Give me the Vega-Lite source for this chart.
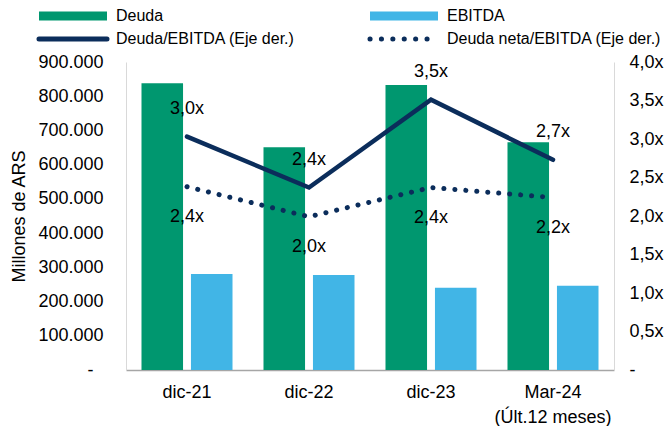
{
  "$schema": "https://vega.github.io/schema/vega-lite/v6.json",
  "width": 488,
  "height": 308,
  "autosize": {"type": "none"},
  "padding": {"left": 126, "top": 62, "right": 54, "bottom": 56},
  "background": "white",
  "config": {
    "font": "Liberation Sans",
    "view": {"stroke": null},
    "axis": {"grid": false, "ticks": false, "tickSize": 0, "labelFontSize": 18, "labelColor": "#000000", "titleColor": "#000000", "titleFontWeight": "normal", "titleFontSize": 18}
  },
  "datasets": {
    "barras": [
      {"periodo": "dic-21", "serie": "Deuda", "valor": 838000},
      {"periodo": "dic-21", "serie": "EBITDA", "valor": 280500},
      {"periodo": "dic-22", "serie": "Deuda", "valor": 650700},
      {"periodo": "dic-22", "serie": "EBITDA", "valor": 277600},
      {"periodo": "dic-23", "serie": "Deuda", "valor": 832800},
      {"periodo": "dic-23", "serie": "EBITDA", "valor": 240500},
      {"periodo": "Mar-24", "serie": "Deuda", "valor": 665300},
      {"periodo": "Mar-24", "serie": "EBITDA", "valor": 246400}
    ],
    "ratios": [
      {"periodo": "dic-21", "serie": "Deuda/EBITDA (Eje der.)", "ratio": 3.03, "lbl": "3,0x"},
      {"periodo": "dic-22", "serie": "Deuda/EBITDA (Eje der.)", "ratio": 2.37, "lbl": "2,4x"},
      {"periodo": "dic-23", "serie": "Deuda/EBITDA (Eje der.)", "ratio": 3.51, "lbl": "3,5x"},
      {"periodo": "Mar-24", "serie": "Deuda/EBITDA (Eje der.)", "ratio": 2.73, "lbl": "2,7x"},
      {"periodo": "dic-21", "serie": "Deuda neta/EBITDA (Eje der.)", "ratio": 2.38, "lbl": "2,4x"},
      {"periodo": "dic-22", "serie": "Deuda neta/EBITDA (Eje der.)", "ratio": 1.99, "lbl": "2,0x"},
      {"periodo": "dic-23", "serie": "Deuda neta/EBITDA (Eje der.)", "ratio": 2.37, "lbl": "2,4x"},
      {"periodo": "Mar-24", "serie": "Deuda neta/EBITDA (Eje der.)", "ratio": 2.24, "lbl": "2,2x"}
    ]
  },
  "encoding": {
    "x": {
      "field": "periodo", "type": "nominal", "sort": ["dic-21", "dic-22", "dic-23", "Mar-24"],
      "scale": {"paddingInner": 0.254, "paddingOuter": 0.127},
      "axis": {
        "title": null, "labelAngle": 0, "labelPadding": 13, "labelBaseline": "top",
        "domainColor": "#A6A6A6", "domainWidth": 1.3, "labelLineHeight": 25,
        "labelExpr": "datum.value == 'Mar-24' ? ['Mar-24', '(Últ.12 meses)'] : datum.value"
      }
    }
  },
  "layer": [
    {
      "data": {"name": "barras"},
      "mark": {"type": "bar"},
      "encoding": {
        "xOffset": {"field": "serie", "type": "nominal", "sort": null, "scale": {"paddingInner": 0.16, "paddingOuter": 0}},
        "y": {
          "field": "valor", "type": "quantitative",
          "scale": {"domain": [0, 900000], "nice": false},
          "axis": {
            "title": "Millones de ARS", "titlePadding": 9,
            "values": [0, 100000, 200000, 300000, 400000, 500000, 600000, 700000, 800000, 900000],
            "labelPadding": {"condition": {"test": "datum.value == 0", "value": 33}, "value": 23},
            "domainColor": "#D9D9D9",
            "labelExpr": "datum.value == 0 ? '-' : format(datum.value / 1000, 'd') + '.000'"
          }
        },
        "color": {
          "field": "serie", "type": "nominal", "sort": null,
          "scale": {
            "domain": ["Deuda", "EBITDA", "Deuda/EBITDA (Eje der.)", "Deuda neta/EBITDA (Eje der.)"],
            "range": ["#00976F", "#41B5E6", "#0B2D5B", "#0B2D5B"]
          },
          "legend": {
            "title": null, "orient": "none", "legendX": -61, "legendY": -54,
            "direction": "horizontal",
            "columns": 2, "columnPadding": 65, "rowPadding": 5, "padding": 0,
            "labelFontSize": 16, "labelColor": "#000000", "labelLimit": 400, "labelOffset": 35,
            "symbolType": "M-4,-0.53H4V0.53H-4Z", "symbolSize": 289, "symbolStrokeWidth": 5,
            "encode": {
              "symbols": {
                "update": {
                  "shape": {"signal": "datum.value == 'Deuda' || datum.value == 'EBITDA' ? 'M-4,-0.53H4V0.53H-4Z' : 'M-4,0H4'"},
                  "fill": {"signal": "datum.value == 'Deuda' ? '#00976F' : datum.value == 'EBITDA' ? '#41B5E6' : 'transparent'"},
                  "stroke": {"signal": "datum.value == 'Deuda' || datum.value == 'EBITDA' ? 'transparent' : '#0B2D5B'"},
                  "strokeWidth": {"signal": "datum.value == 'Deuda' || datum.value == 'EBITDA' ? 0 : 5"},
                  "strokeDash": {"signal": "datum.value == 'Deuda neta/EBITDA (Eje der.)' ? [0.1, 11.3] : [1, 0]"},
                  "strokeCap": {"value": "round"},
                  "opacity": {"value": 1}
                }
              }
            }
          }
        }
      }
    },
    {
      "data": {"name": "ratios"},
      "encoding": {
        "y": {
          "field": "ratio", "type": "quantitative",
          "scale": {"domain": [0, 4], "nice": false},
          "axis": {
            "orient": "right", "title": null,
            "values": [0, 0.5, 1, 1.5, 2, 2.5, 3, 3.5, 4],
            "labelPadding": 15, "domainColor": "#D9D9D9",
            "labelExpr": "datum.value == 0 ? '-' : replace(format(datum.value, '.1f'), '.', ',') + 'x'"
          }
        }
      },
      "layer": [
        {
          "transform": [{"filter": "datum.serie == 'Deuda/EBITDA (Eje der.)'"}],
          "mark": {"type": "line", "strokeWidth": 4.5, "strokeCap": "round", "strokeJoin": "miter"},
          "encoding": {"color": {"field": "serie", "type": "nominal", "sort": null}}
        },
        {
          "transform": [{"filter": "datum.serie == 'Deuda neta/EBITDA (Eje der.)'"}],
          "mark": {"type": "line", "strokeWidth": 5, "strokeCap": "round", "strokeDash": [0.1, 10.9]},
          "encoding": {"color": {"field": "serie", "type": "nominal", "sort": null}}
        },
        {
          "transform": [{"filter": "datum.serie == 'Deuda/EBITDA (Eje der.)'"}],
          "mark": {"type": "text", "fontSize": 18, "dy": -28, "color": "#000000"},
          "encoding": {"text": {"field": "lbl"}}
        },
        {
          "transform": [{"filter": "datum.serie == 'Deuda neta/EBITDA (Eje der.)'"}],
          "mark": {"type": "text", "fontSize": 18, "dy": 30, "color": "#000000"},
          "encoding": {"text": {"field": "lbl"}}
        }
      ]
    }
  ],
  "resolve": {"scale": {"y": "independent"}}
}
